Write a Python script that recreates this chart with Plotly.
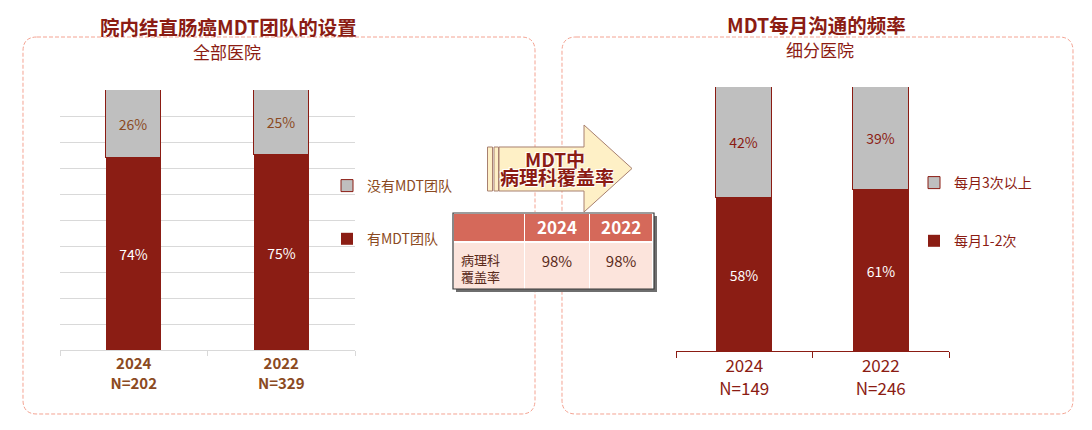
import plotly.graph_objects as go

W, H = 1092, 430

def fx(px):
    return px / W

def fy(py):
    return 1 - py / H

# ---------------- data ----------------
years = ["2024", "2022"]
left_n = [202, 329]
left_has_mdt = [74, 75]
left_no_mdt = [26, 25]
left_names = ["有MDT团队", "没有MDT团队"]

right_n = [149, 246]
right_1_2 = [58, 61]
right_3_plus = [42, 39]
right_names = ["每月1-2次", "每月3次以上"]

table_header = ["", "2024", "2022"]
table_row_label = "病理科<br>覆盖率"
table_values = ["98%", "98%"]

RED = "#8B1D14"
GREY = "#BFBFBF"
BROWN = "#8B4A22"
DARKRED = "#8B1C13"
FONT = "Noto Sans CJK SC"

fig = go.Figure()

# ---------------- left chart ----------------
fig.add_trace(go.Bar(
    x=years, y=left_has_mdt, name=left_names[0], width=0.375,
    marker=dict(color=RED, line=dict(width=0)),
    text=[f"{v}%" for v in left_has_mdt], textposition="inside",
    insidetextanchor="middle", textangle=0,
    textfont=dict(color="white", size=14, family=FONT),
    legend="legend", legendgroup="l1", legendrank=2,
    xaxis="x", yaxis="y", hoverinfo="skip"))
fig.add_trace(go.Bar(
    x=years, y=left_no_mdt, name=left_names[1], width=0.375,
    marker=dict(color=GREY, line=dict(width=1, color=DARKRED)),
    text=[f"{v}%" for v in left_no_mdt], textposition="inside",
    insidetextanchor="middle", textangle=0,
    textfont=dict(color=BROWN, size=14, family=FONT),
    legend="legend", legendgroup="l2", legendrank=1,
    xaxis="x", yaxis="y", hoverinfo="skip"))

# ---------------- right chart ----------------
fig.add_trace(go.Bar(
    x=years, y=right_1_2, name=right_names[0], width=0.41,
    marker=dict(color=RED, line=dict(width=0)),
    text=[f"{v}%" for v in right_1_2], textposition="inside",
    insidetextanchor="middle", textangle=0,
    textfont=dict(color="white", size=14, family=FONT),
    legend="legend2", legendgroup="r1", legendrank=2,
    xaxis="x2", yaxis="y2", hoverinfo="skip"))
fig.add_trace(go.Bar(
    x=years, y=right_3_plus, name=right_names[1], width=0.41,
    marker=dict(color=GREY, line=dict(width=1, color=DARKRED)),
    text=[f"{v}%" for v in right_3_plus], textposition="inside",
    insidetextanchor="middle", textangle=0,
    textfont=dict(color=DARKRED, size=14, family=FONT),
    legend="legend2", legendgroup="r2", legendrank=1,
    xaxis="x2", yaxis="y2", hoverinfo="skip"))

# ---------------- table ----------------
fig.add_trace(go.Table(
    domain=dict(x=[fx(453), fx(654)], y=[fy(289), fy(213)]),
    columnwidth=[72, 65, 64],
    header=dict(values=table_header, fill_color="#D5695A",
                line=dict(color="white", width=1.5), height=29,
                align="center",
                font=dict(color="white", size=17, family=FONT, weight="bold")),
    cells=dict(values=[[table_row_label]] +
               [[f"<br><span style='font-size:15px'>{v}</span>"] for v in table_values],
               fill_color="#FCE4DC", line=dict(color="white", width=1.5),
               height=48, align=["left", "center", "center"],
               font=dict(color="#5A2A1A", size=[13, 10, 10], family=FONT)),
))

# ---------------- shapes ----------------
def P(x, y):
    return f"{fx(x):.5f},{fy(y):.5f}"

def rounded(x0, y0, x1, y1, r):
    return (f"M {P(x0 + r, y0)} L {P(x1 - r, y0)} Q {P(x1, y0)} {P(x1, y0 + r)} "
            f"L {P(x1, y1 - r)} Q {P(x1, y1)} {P(x1 - r, y1)} "
            f"L {P(x0 + r, y1)} Q {P(x0, y1)} {P(x0, y1 - r)} "
            f"L {P(x0, y0 + r)} Q {P(x0, y0)} {P(x0 + r, y0)} Z")

shapes = []
for (a, b, c, d) in [(23, 37, 535, 414), (562, 37, 1073, 414)]:
    shapes.append(dict(type="path", xref="paper", yref="paper", layer="below",
                       path=rounded(a, b, c, d, 14),
                       line=dict(color="#F4A392", width=1, dash="4px,2px")))

arrow_path = (f"M {P(499,147)} L {P(584,147)} L {P(584,125)} L {P(632,168.5)} "
              f"L {P(584,212)} L {P(584,191)} L {P(499,191)} Z")
shapes.append(dict(type="path", xref="paper", yref="paper", path=arrow_path,
                   fillcolor="#FEF0C6", line=dict(color="#A88070", width=1)))
for (a, b) in [(487.5, 492.5), (494, 498.5)]:
    shapes.append(dict(type="rect", xref="paper", yref="paper",
                       x0=fx(a), x1=fx(b), y0=fy(191), y1=fy(147),
                       fillcolor="#FEF0C6", line=dict(color="#A88070", width=1)))

# table shadow and outline
shapes.append(dict(type="rect", xref="paper", yref="paper", layer="below",
                   x0=fx(456), x1=fx(657), y0=fy(292), y1=fy(216),
                   fillcolor="#6E6E6E", line=dict(width=0)))
shapes.append(dict(type="rect", xref="paper", yref="paper",
                   x0=fx(453), x1=fx(654), y0=fy(289), y1=fy(213),
                   fillcolor="rgba(0,0,0,0)", line=dict(color="#3A3A3A", width=1.2)))

# ---------------- annotations ----------------
ann = []
def text(x, y, s, size, color, bold=False, shadow=None):
    f = dict(family=FONT, size=size, color=color)
    if bold:
        f["weight"] = "bold"
    if shadow:
        f["shadow"] = shadow
    ann.append(dict(x=fx(x), y=fy(y), xref="paper", yref="paper", text=s,
                    showarrow=False, xanchor="center", yanchor="middle", font=f))

text(228, 26, "院内结直肠癌MDT团队的设置", 19.5, DARKRED, bold=True)
text(227, 51, "全部医院", 17, DARKRED)
text(816, 25, "MDT每月沟通的频率", 19.5, DARKRED, bold=True)
text(820, 50, "细分医院", 17, DARKRED)
glow = "0px 0px 2px #fff, 1px 1px 0px #fff, -1px -1px 0px #fff"
text(555, 158, "MDT中", 19, DARKRED, bold=True, shadow=glow)
text(557, 177, "病理科覆盖率", 19, DARKRED, bold=True, shadow=glow)

fig.update_layout(
    width=W, height=H, margin=dict(l=0, r=0, t=0, b=0),
    paper_bgcolor="white", plot_bgcolor="white",
    barmode="stack", bargap=0, showlegend=True,
    font=dict(family=FONT),
    xaxis=dict(domain=[fx(60), fx(355)], type="category", range=[-0.5, 1.5],
               tickvals=years,
               ticktext=[f"<b>{y}<br>N={n}</b>" for y, n in zip(years, left_n)],
               tickfont=dict(size=15, color=BROWN, family=FONT),
               showline=True, linecolor="#D9D9D9", linewidth=1,
               ticks="outside", tickson="boundaries", ticklen=5,
               tickcolor="#D9D9D9", showgrid=False, fixedrange=True),
    yaxis=dict(domain=[fy(350), fy(90)], range=[0, 100], dtick=10,
               showgrid=True, gridcolor="#D9D9D9", gridwidth=1,
               showticklabels=False, zeroline=False, fixedrange=True),
    xaxis2=dict(domain=[fx(676), fx(949)], anchor="y2", type="category",
                range=[-0.5, 1.5], tickvals=years,
                ticktext=[f"{y}<br>N={n}" for y, n in zip(years, right_n)],
                tickfont=dict(size=17, color=DARKRED, family=FONT),
                showline=True, linecolor=DARKRED, linewidth=1,
                ticks="outside", tickson="boundaries", ticklen=6,
                tickcolor=DARKRED, showgrid=False, fixedrange=True),
    yaxis2=dict(domain=[fy(351), fy(87)], anchor="x2", range=[0, 100],
                showgrid=False, showticklabels=False, zeroline=False,
                fixedrange=True),
    legend=dict(x=fx(327), y=fy(170), xanchor="left", yanchor="top",
                traceorder="grouped", tracegroupgap=32, itemwidth=30,
                bgcolor="rgba(0,0,0,0)",
                font=dict(size=14, color=BROWN, family=FONT)),
    legend2=dict(x=fx(914), y=fy(167), xanchor="left", yanchor="top",
                 traceorder="grouped", tracegroupgap=37, itemwidth=30,
                 bgcolor="rgba(0,0,0,0)",
                 font=dict(size=14, color=DARKRED, family=FONT)),
    shapes=shapes, annotations=ann,
)

fig.write_html("out.html", config={"displayModeBar": False},
               post_script="document.body.style.margin='0px';")
